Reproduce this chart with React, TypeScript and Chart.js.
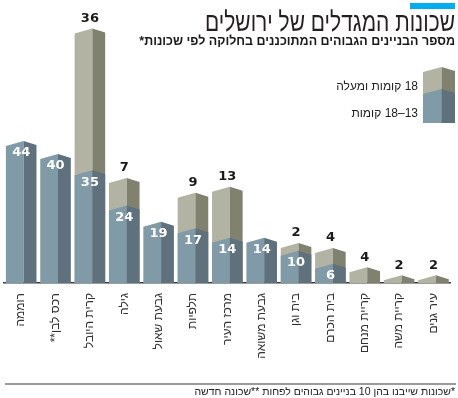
import React, { useEffect, useRef } from 'react';
import { Chart, registerables } from 'chart.js';

Chart.register(...registerables);

// ---- data ----
const neighborhoods = [
  'רוממה',
  'רכס לבן**',
  'קרית היובל',
  'גילה',
  'גבעת שאול',
  'תלפיות',
  'מרכז העיר',
  'גבעת משואה',
  'בית וגן',
  'בית הכרם',
  'קריית מנחם',
  'קריית משה',
  'עיר גנים',
];
const floors13to18 = [44, 40, 35, 24, 19, 17, 14, 14, 10, 6, 0, 0, 0];
const floors18plus = [0, 0, 36, 7, 0, 9, 13, 0, 2, 4, 4, 2, 2];

const titleText = 'שכונות המגדלים של ירושלים';
const subtitleText = 'מספר הבניינים הגבוהים המתוכננים בחלוקה לפי שכונות*';
const footnoteText = '*שכונות שייבנו בהן 10 בניינים גבוהים לפחות **שכונה חדשה';
const legendTall = '18 קומות ומעלה';
const legendMid = '13–18 קומות';

// the source graphic draws the 18+ segments taller per building than the 13–18 segments
const TALL_SCALE = 1.22;

const BLUE_LIGHT = '#809aa8';
const BLUE_DARK = '#5e717d';
const GREY_LIGHT = '#b3b3a4';
const GREY_DARK = '#81816f';
const FONT = "'Liberation Sans', 'DejaVu Sans', sans-serif";
const NUM_FONT = "bold 13px 'DejaVu Sans', sans-serif";

function drawPrism(ctx: CanvasRenderingContext2D, xl: number, xr: number, top: number, base: number, light: string, dark: string) {
  const w = xr - xl;
  const xm = xl + w * 0.58;
  const dl = 5;
  const dr = 4;
  ctx.fillStyle = light;
  ctx.beginPath();
  ctx.moveTo(xl, Math.min(top + dl, base));
  ctx.lineTo(xm, top);
  ctx.lineTo(xm, base);
  ctx.lineTo(xl, base);
  ctx.closePath();
  ctx.fill();
  ctx.fillStyle = dark;
  ctx.beginPath();
  ctx.moveTo(xm, top);
  ctx.lineTo(xr, Math.min(top + dr, base));
  ctx.lineTo(xr, base);
  ctx.lineTo(xm, base);
  ctx.closePath();
  ctx.fill();
}

const prismPlugin = {
  id: 'prisms',
  beforeDraw(chart: any) {
    const ctx = chart.ctx;
    ctx.save();
    ctx.fillStyle = '#ffffff';
    ctx.fillRect(0, 0, chart.width, chart.height);
    ctx.restore();
  },
  afterDatasetsDraw(chart: any) {
    const ctx: CanvasRenderingContext2D = chart.ctx;
    const base = chart.scales.y.getPixelForValue(0);
    const blueMeta = chart.getDatasetMeta(0);
    const greyMeta = chart.getDatasetMeta(1);
    ctx.save();
    // grey (upper) segments first, down to the axis
    greyMeta.data.forEach((el: any, i: number) => {
      if (!floors18plus[i]) return;
      drawPrism(ctx, el.x - el.width / 2, el.x + el.width / 2, el.y, base, GREY_LIGHT, GREY_DARK);
    });
    blueMeta.data.forEach((el: any, i: number) => {
      if (!floors13to18[i]) return;
      drawPrism(ctx, el.x - el.width / 2, el.x + el.width / 2, el.y, base, BLUE_LIGHT, BLUE_DARK);
    });
    ctx.font = NUM_FONT;
    ctx.textAlign = 'center';
    ctx.textBaseline = 'middle';
    blueMeta.data.forEach((el: any, i: number) => {
      if (!floors13to18[i]) return;
      ctx.fillStyle = '#ffffff';
      ctx.fillText(String(floors13to18[i]), el.x, el.y + 12);
    });
    greyMeta.data.forEach((el: any, i: number) => {
      if (!floors18plus[i]) return;
      ctx.fillStyle = '#1a1a1a';
      ctx.fillText(String(floors18plus[i]), el.x, el.y - 10);
    });
    ctx.restore();
  },
  afterDraw(chart: any) {
    const ctx: CanvasRenderingContext2D = chart.ctx;
    ctx.save();
    ctx.direction = 'rtl';
    // accent bar
    ctx.fillStyle = '#00aeef';
    ctx.fillRect(410, 3, 45, 6);
    // title
    ctx.fillStyle = '#231f20';
    ctx.font = `27px ${FONT}`;
    const tw = ctx.measureText(titleText).width;
    ctx.save();
    ctx.translate(455, 31);
    ctx.scale(250 / tw, 1);
    ctx.textAlign = 'right';
    ctx.textBaseline = 'alphabetic';
    ctx.fillText(titleText, 0, 0);
    ctx.restore();
    // subtitle
    ctx.font = `bold 12.5px ${FONT}`;
    ctx.textAlign = 'right';
    ctx.textBaseline = 'middle';
    ctx.fillStyle = '#1a1a1a';
    ctx.fillText(subtitleText, 455, 42);
    // legend icon
    drawPrism(ctx, 423, 455, 67, 123, GREY_LIGHT, GREY_DARK);
    drawPrism(ctx, 423, 455, 89, 123, BLUE_LIGHT, BLUE_DARK);
    ctx.font = `12px ${FONT}`;
    ctx.fillStyle = '#222';
    ctx.fillText(legendTall, 418, 87);
    ctx.fillText(legendMid, 418, 114);
    // bottom rule and footnote
    ctx.strokeStyle = '#7a7a7a';
    ctx.lineWidth = 1.5;
    ctx.beginPath();
    ctx.moveTo(5, 384);
    ctx.lineTo(456, 384);
    ctx.stroke();
    ctx.font = `10.5px ${FONT}`;
    ctx.fillStyle = '#222';
    ctx.fillText(footnoteText, 455, 392);
    ctx.restore();
  },
};

export default function App() {
  const ref = useRef<HTMLCanvasElement | null>(null);
  useEffect(() => {
    document.body.style.margin = '0';
    document.body.style.overflow = 'hidden';
    const canvas = ref.current!;
    const chart = new Chart(canvas, {
      type: 'bar',
      data: {
        labels: neighborhoods,
        datasets: [
          {
            label: legendMid,
            data: floors13to18,
            backgroundColor: 'rgba(0,0,0,0)',
            borderWidth: 0,
          },
          {
            label: legendTall,
            data: floors18plus.map((v) => v * TALL_SCALE),
            backgroundColor: 'rgba(0,0,0,0)',
            borderWidth: 0,
          },
        ],
      },
      options: {
        responsive: false,
        animation: false,
        devicePixelRatio: 1,
        layout: { padding: { top: 25, bottom: 0, left: 4, right: 3 } },
        datasets: { bar: { barPercentage: 0.89, categoryPercentage: 1 } },
        plugins: { legend: { display: false }, tooltip: { enabled: false }, title: { display: false } },
        scales: {
          x: {
            stacked: true,
            z: 1,
            grid: { display: false, drawTicks: false },
            border: { display: true, color: '#3a3a3a', width: 1.5 },
            ticks: {
              autoSkip: false,
              minRotation: 90,
              maxRotation: 90,
              padding: 10,
              color: '#333',
              font: { family: FONT, size: 12 },
            },
            afterFit: (scale: any) => {
              scale.height = 115;
            },
          },
          y: { stacked: true, display: false, min: 0, max: 80 },
        },
      },
      plugins: [prismPlugin],
    });
    return () => chart.destroy();
  }, []);
  return (
    <div style={{ width: 458, height: 398 }}>
      <canvas ref={ref} width={458} height={398} style={{ display: 'block', direction: 'rtl' }} dir="rtl" />
    </div>
  );
}
